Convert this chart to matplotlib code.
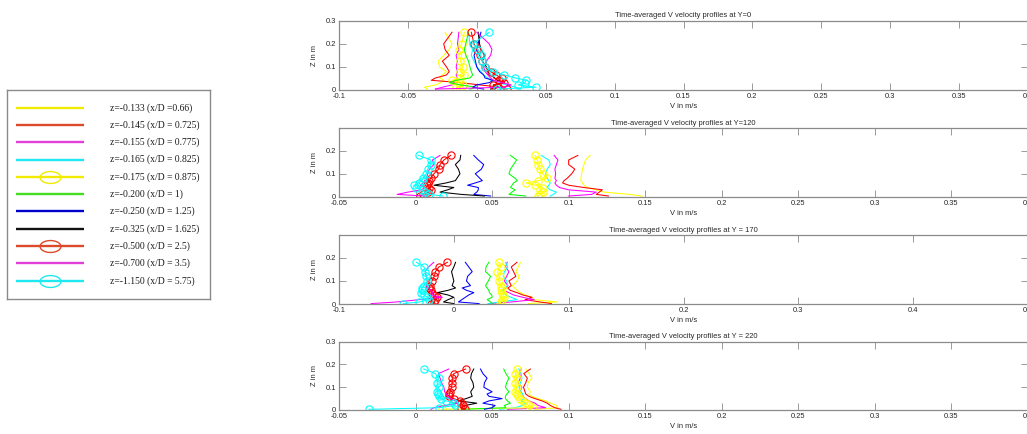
import numpy as np
import matplotlib
matplotlib.use("Agg")
import matplotlib.pyplot as plt
from matplotlib.path import Path

# ---------------------------------------------------------------- data
series_labels = [
    "z=-0.133 (x/D =0.66)",
    "z=-0.145 (x/D = 0.725)",
    "z=-0.155 (x/D = 0.775)",
    "z=-0.165 (x/D = 0.825)",
    "z=-0.175 (x/D = 0.875)",
    "z=-0.200 (x/D = 1)",
    "z=-0.250 (x/D = 1.25)",
    "z=-0.325 (x/D = 1.625)",
    "z=-0.500 (x/D = 2.5)",
    "z=-0.700 (x/D = 3.5)",
    "z=-1.150 (x/D = 5.75)",
]
series_colors = ["#ffff00", "#ff0000", "#ff00ff", "#00ffff", "#ffff00", "#00ff00",
                 "#0000ff", "#000000", "#ff0000", "#ff00ff", "#00ffff"]
legend_colors = ["#f2ea00", "#dd4a2a", "#e040d8", "#20e8f0", "#f2ea00", "#44dd22",
                 "#0000cc", "#111111", "#dd4a2a", "#e040d8", "#20e8f0"]
series_marked = [False, False, False, False, True, False, False, False, True, False, True]

# measurement heights (m), bottom to top
z_y0 = [0.004, 0.012, 0.022, 0.032, 0.042, 0.052, 0.065, 0.08, 0.1, 0.125, 0.15, 0.175, 0.2, 0.25]
z_y120 = [0.003, 0.01, 0.02, 0.03, 0.04, 0.05, 0.06, 0.07, 0.08, 0.1, 0.12, 0.14, 0.16, 0.18]
z_y170 = z_y120
z_y220 = z_y120

# time-averaged V (m/s), one row per station, bottom to top
v_y0 = [
    [-0.036, -0.038, -0.030, -0.026, -0.024, -0.027, -0.025, -0.022, -0.027, -0.028, -0.024, -0.020, -0.018, -0.023],
    [0.020, 0.018, 0.002, -0.012, -0.033, -0.030, -0.022, -0.020, -0.022, -0.025, -0.020, -0.023, -0.024, -0.018],
    [-0.030, -0.025, -0.018, -0.015, -0.016, -0.014, -0.015, -0.014, -0.015, -0.014, -0.015, -0.013, -0.014, -0.013],
    [0.032, 0.028, 0.022, 0.015, 0.010, 0.008, 0.005, 0.003, 0.000, -0.002, -0.004, -0.003, -0.005, -0.006],
    [-0.012, -0.015, -0.010, -0.013, -0.018, -0.012, -0.009, -0.012, -0.010, -0.012, -0.011, -0.013, -0.011, -0.009],
    [-0.005, 0.000, -0.012, -0.020, -0.015, -0.005, -0.003, -0.004, -0.005, -0.006, -0.008, -0.009, -0.008, -0.006],
    [0.005, -0.003, 0.000, 0.009, 0.012, 0.006, 0.005, 0.002, 0.000, -0.001, -0.002, 0.000, 0.001, 0.003],
    [0.010, 0.016, 0.012, 0.020, 0.015, 0.013, 0.010, 0.008, 0.007, 0.004, 0.006, 0.003, 0.002, 0.001],
    [0.022, 0.015, 0.012, 0.020, 0.016, 0.018, 0.014, 0.010, 0.006, 0.004, 0.002, 0.000, -0.002, -0.004],
    [-0.030, 0.020, 0.025, 0.018, 0.012, 0.010, 0.008, 0.006, 0.005, 0.007, 0.010, 0.011, 0.009, 0.000],
    [0.015, 0.043, 0.030, 0.035, 0.036, 0.028, 0.020, 0.012, 0.006, 0.004, 0.003, 0.001, -0.003, 0.009],
]
v_y120 = [
    [0.148, 0.140, 0.123, 0.118, 0.112, 0.110, 0.109, 0.108, 0.108, 0.1085, 0.109, 0.110, 0.111, 0.114],
    [0.126, 0.118, 0.120, 0.122, 0.110, 0.100, 0.096, 0.097, 0.099, 0.102, 0.104, 0.100, 0.100, 0.106],
    [0.100, 0.115, 0.118, 0.100, 0.094, 0.092, 0.091, 0.092, 0.091, 0.0915, 0.091, 0.092, 0.093, 0.0905],
    [0.088, 0.090, 0.092, 0.088, 0.086, 0.087, 0.088, 0.087, 0.086, 0.085, 0.086, 0.088, 0.087, 0.082],
    [0.080, 0.081, 0.083, 0.081, 0.083, 0.078, 0.072, 0.080, 0.086, 0.083, 0.081, 0.080, 0.0795, 0.078],
    [0.072, 0.061, 0.063, 0.065, 0.062, 0.063, 0.064, 0.0665, 0.065, 0.061, 0.062, 0.064, 0.066, 0.062],
    [0.049, 0.038, 0.040, 0.041, 0.041, 0.034, 0.039, 0.0436, 0.042, 0.039, 0.043, 0.0445, 0.041, 0.038],
    [0.045, 0.030, 0.016, 0.021, 0.025, 0.012, 0.020, 0.026, 0.027, 0.029, 0.028, 0.026, 0.029, 0.0295],
    [0.003, 0.005, 0.008, 0.010, 0.009, 0.0076, 0.008, 0.009, 0.0098, 0.012, 0.015, 0.016, 0.0185, 0.023],
    [0.006, -0.012, -0.005, 0.004, 0.006, 0.003, 0.005, 0.006, 0.007, 0.008, 0.009, 0.012, 0.011, 0.016],
    [0.018, 0.009, 0.006, 0.004, 0.000, -0.001, 0.002, 0.004, 0.005, 0.007, 0.008, 0.010, 0.010, 0.002],
]
v_y170 = [
    [0.065, 0.090, 0.070, 0.068, 0.062, 0.058, 0.055, 0.053, 0.051, 0.055, 0.057, 0.054, 0.056, 0.058],
    [0.085, 0.075, 0.062, 0.068, 0.060, 0.055, 0.049, 0.047, 0.050, 0.048, 0.054, 0.052, 0.050, 0.055],
    [0.030, 0.050, 0.070, 0.060, 0.052, 0.048, 0.043, 0.045, 0.047, 0.044, 0.046, 0.048, 0.045, 0.0465],
    [0.030, 0.040, 0.055, 0.050, 0.045, 0.044, 0.042, 0.044, 0.047, 0.046, 0.043, 0.044, 0.047, 0.045],
    [0.040, 0.041, 0.042, 0.0436, 0.043, 0.042, 0.041, 0.042, 0.041, 0.039, 0.040, 0.038, 0.0407, 0.039],
    [0.0334, 0.032, 0.029, 0.0334, 0.033, 0.031, 0.0305, 0.029, 0.0276, 0.030, 0.032, 0.0276, 0.028, 0.0305],
    [0.022, 0.004, 0.007, 0.010, 0.013, 0.0174, 0.011, 0.0073, 0.0145, 0.011, 0.012, 0.016, 0.013, 0.010],
    [0.000, -0.009, -0.005, 0.000, -0.005, -0.0145, -0.005, 0.0015, -0.0015, 0.000, -0.001, -0.002, 0.000, 0.0015],
    [-0.020, -0.017, -0.016, -0.015, -0.0175, -0.019, -0.020, -0.022, -0.021, -0.019, -0.017, -0.016, -0.013, -0.0056],
    [-0.072, -0.050, -0.030, -0.010, -0.020, -0.018, -0.020, -0.022, -0.024, -0.023, -0.024, -0.025, -0.022, -0.0175],
    [-0.044, -0.030, -0.022, -0.023, -0.026, -0.029, -0.028, -0.0276, -0.026, -0.023, -0.024, -0.0247, -0.026, -0.0326],
]
v_y220 = [
    [0.078, 0.093, 0.092, 0.088, 0.085, 0.080, 0.076, 0.074, 0.075, 0.073, 0.0735, 0.076, 0.074, 0.072],
    [0.095, 0.091, 0.088, 0.086, 0.0826, 0.078, 0.074, 0.072, 0.0715, 0.0705, 0.072, 0.073, 0.0707, 0.075],
    [0.060, 0.085, 0.080, 0.078, 0.074, 0.072, 0.070, 0.069, 0.068, 0.0695, 0.067, 0.0685, 0.068, 0.069],
    [0.055, 0.065, 0.070, 0.072, 0.069, 0.071, 0.0705, 0.070, 0.069, 0.0675, 0.0685, 0.0695, 0.069, 0.0674],
    [0.017, 0.077, 0.074, 0.072, 0.070, 0.068, 0.067, 0.0665, 0.065, 0.066, 0.065, 0.066, 0.0652, 0.0663],
    [0.030, 0.059, 0.058, 0.062, 0.060, 0.0587, 0.0587, 0.0595, 0.061, 0.0587, 0.0595, 0.061, 0.059, 0.0576],
    [0.045, 0.050, 0.052, 0.044, 0.048, 0.0565, 0.048, 0.0467, 0.050, 0.0446, 0.045, 0.0467, 0.044, 0.0424],
    [0.032, 0.030, 0.0326, 0.040, 0.028, 0.033, 0.037, 0.0365, 0.036, 0.038, 0.0375, 0.036, 0.0365, 0.038],
    [0.032, 0.030, 0.031, 0.030, 0.029, 0.025, 0.022, 0.022, 0.0225, 0.0235, 0.024, 0.024, 0.025, 0.0327],
    [0.010, 0.012, 0.020, 0.028, 0.026, 0.0228, 0.021, 0.020, 0.019, 0.0185, 0.017, 0.016, 0.015, 0.0217],
    [-0.0304, 0.015, 0.026, 0.025, 0.020, 0.0163, 0.0152, 0.0145, 0.014, 0.015, 0.014, 0.015, 0.013, 0.0054],
]

panel_titles = [
    "Time-averaged V velocity profiles at Y=0",
    "Time-averaged V velocity profiles at Y=120",
    "Time-averaged V velocity profiles at Y = 170",
    "Time-averaged V velocity profiles at Y = 220",
]
panel_z = [z_y0, z_y120, z_y170, z_y220]
panel_v = [v_y0, v_y120, v_y170, v_y220]
panel_xlim = [(-0.1, 0.4), (-0.05, 0.4), (-0.1, 0.5), (-0.05, 0.4)]
panel_xstep = [0.05, 0.05, 0.1, 0.05]
panel_ylim = [(0, 0.3), (0, 0.298), (0, 0.297), (0, 0.3)]
panel_yticks = [[0, 0.1, 0.2, 0.3], [0, 0.1, 0.2], [0, 0.1, 0.2], [0, 0.1, 0.2, 0.3]]

# ---------------------------------------------------------------- layout
W, H, DPI = 1027, 434, 100
fig = plt.figure(figsize=(W / DPI, H / DPI), dpi=DPI)
fig.patch.set_facecolor("white")

AX_LEFT, AX_RIGHT = 339, 1028
panel_rows = [(20.7, 90.0), (128.3, 196.7), (235.0, 304.3), (341.7, 410.0)]

SANS = ["Liberation Sans", "DejaVu Sans"]
SERIF = ["Liberation Serif", "DejaVu Serif"]
SPINE = "#8a8a8a"
TXT = "#262626"
FS = 5.4


def px_axes(left, top, right, bottom):
    return fig.add_axes([left / W, 1 - bottom / H, (right - left) / W, (bottom - top) / H])


def fmt(v):
    v = round(v, 4) + 0.0
    return f"{v:g}"


for i in range(4):
    top, bottom = panel_rows[i]
    ax = px_axes(AX_LEFT, top, AX_RIGHT, bottom)
    for k in range(len(series_labels)):
        ax.plot(panel_v[i][k], panel_z[i], color=series_colors[k], lw=0.75,
                marker="o" if series_marked[k] else None, ms=5.2,
                mfc="none", mec=series_colors[k], mew=0.8, clip_on=True)
    x0, x1 = panel_xlim[i]
    xt = np.round(np.arange(x0, x1 + 1e-9, panel_xstep[i]), 4)
    ax.set_xlim(x0, x1)
    ax.set_ylim(*panel_ylim[i])
    ax.set_xticks(xt)
    ax.set_xticklabels([fmt(t) for t in xt])
    ax.set_yticks(panel_yticks[i])
    ax.set_yticklabels([fmt(t) for t in panel_yticks[i]])
    ax.tick_params(direction="in", length=5, width=0.6, color=SPINE,
                   top=True, right=True, labelsize=FS, labelcolor=TXT, pad=2.2)
    for tl in ax.get_xticklabels() + ax.get_yticklabels():
        tl.set_family(SANS)
    for s in ax.spines.values():
        s.set_color(SPINE)
        s.set_linewidth(0.9)
    ax.set_title(panel_titles[i], fontsize=FS, family=SANS, color=TXT, pad=2.5)
    ax.set_xlabel("V in m/s", fontsize=FS, family=SANS, color=TXT)
    ax.xaxis.set_label_coords(0.5, -13.0 / (bottom - top))
    ax.set_ylabel("Z in m", fontsize=FS, family=SANS, color=TXT)
    ax.yaxis.set_label_coords((318.5 - AX_LEFT) / (AX_RIGHT - AX_LEFT), 0.5)

# ---------------------------------------------------------------- key box
lg = px_axes(7, 90, 210, 299)
lg.set_xlim(0, 203)
lg.set_ylim(209, 0)
lg.set_xticks([])
lg.set_yticks([])
for s in lg.spines.values():
    s.set_color(SPINE)
    s.set_linewidth(1.0)

# wide ellipse used as the key's circle symbol
theta = np.linspace(0, 2 * np.pi, 60)
ellipse = Path(np.column_stack([1.75 * np.cos(theta), np.sin(theta)]), closed=True)

ROW0, ROWSTEP = 17.7, 17.3
for k, label in enumerate(series_labels):
    yk = ROW0 + k * ROWSTEP
    lg.plot([9, 77], [yk, yk], color=legend_colors[k], lw=1.7, solid_capstyle="butt")
    if series_marked[k]:
        lg.plot([43], [yk], marker=ellipse, ms=15, mfc="none",
                mec=legend_colors[k], mew=1.0, ls="none")
    lg.text(103, yk, label, fontsize=6.9, family=SERIF, color="#1a1a1a",
            va="center", ha="left")

fig.savefig("out.png", dpi=DPI, facecolor="white")
